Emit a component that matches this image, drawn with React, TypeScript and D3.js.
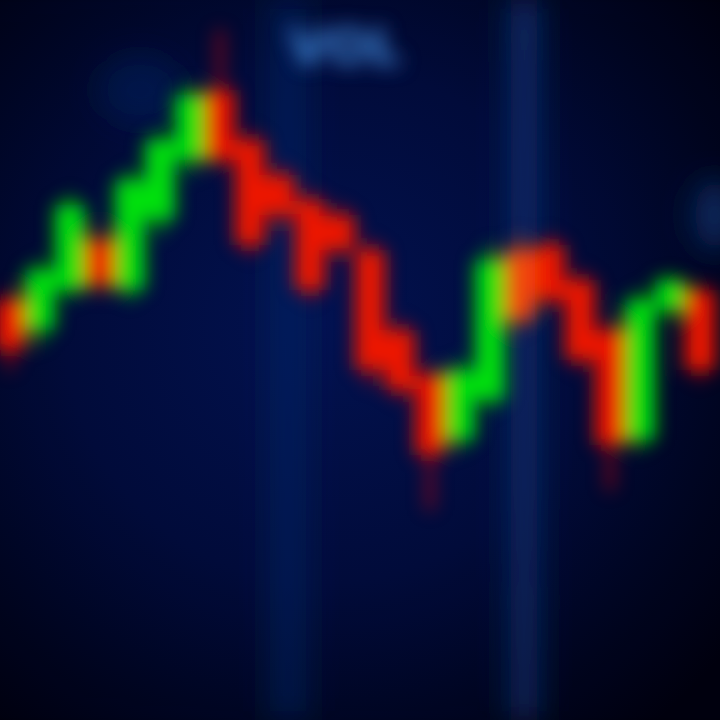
import React from "react";
import * as d3 from "d3";

const sessions = d3.range(24).map((i) => `S${i + 1}`);
const opens = [42, 39, 43, 48, 43, 50, 56, 63, 58, 54.5, 52, 50.5, 47, 39, 34.5, 28, 32, 47, 47.5, 44, 39, 28, 41, 43];
const closes = [37, 45, 51.5, 43.5, 54, 58, 62.5, 56, 47.5, 50.5, 43, 47, 35, 33, 26.5, 35, 46, 40, 42, 36, 27.5, 42, 44, 35];
const highs = [43, 46, 52.5, 49, 55, 59, 63.5, 69, 59, 55.5, 53, 51.5, 48, 40, 35.5, 36, 47.5, 48.5, 48.5, 45, 40, 43, 44.5, 43.5];
const lows = [35, 37.5, 42, 42.5, 42, 48.5, 54.5, 55, 46.5, 49, 42, 46, 33.5, 32, 21, 27, 31, 39, 41, 35, 23, 27, 40, 34];
const gridTicks = d3.range(0, 25);
const label = "VOL";

const W = 720;
const H = 720;

export default function App() {
  const x = d3.scaleBand<string>().domain(sessions).range([-5, 715]).paddingInner(0.0);
  const y = d3.scaleLinear().domain([0, 72]).range([H, 0]);
  const gx = d3.scaleLinear().domain([0, 24]).range([0, W]);

  return (
    <svg width={W} height={H} style={{ position: "fixed", left: 0, top: 0, background: "#010418" }}>
      <defs>
        <radialGradient id="bg" cx="45%" cy="45%" r="72%">
          <stop offset="0%" stopColor="#031350" />
          <stop offset="50%" stopColor="#020c3a" />
          <stop offset="100%" stopColor="#00010c" />
        </radialGradient>
        <linearGradient id="band" x1="0" y1="0" x2="0" y2="1">
          <stop offset="0%" stopColor="#0a3070" stopOpacity={0.85} />
          <stop offset="100%" stopColor="#0a3070" stopOpacity={0.7} />
        </linearGradient>
        <filter id="blur" x="-20%" y="-20%" width="140%" height="140%">
          <feGaussianBlur stdDeviation="9" />
        </filter>
        <filter id="blurText" x="-50%" y="-100%" width="200%" height="300%">
          <feGaussianBlur stdDeviation="10" />
        </filter>
        <filter id="blurBig" x="-50%" y="-50%" width="200%" height="200%">
          <feGaussianBlur stdDeviation="14" />
        </filter>
      </defs>
      <rect width={W} height={H} fill="url(#bg)" />
      <g filter="url(#blurBig)">
        {gridTicks.map((t) => (
          <line key={t} x1={gx(t)} x2={gx(t)} y1={0} y2={H} stroke="#0a2466" strokeWidth={3} opacity={0.4} />
        ))}
        <rect x={272} y={0} width={34} height={H} fill="#0a2a6e" opacity={0.45} />
        <rect x={510} y={0} width={28} height={H} fill="url(#band)" />
        <ellipse cx={140} cy={90} rx={40} ry={35} fill="#0a2a70" opacity={0.35} />
        <ellipse cx={715} cy={215} rx={20} ry={35} fill="#0e3a80" opacity={0.6} />
      </g>
      <g filter="url(#blurText)">
        <text x={345} y={64} textAnchor="middle" fontFamily="DejaVu Sans" fontWeight="bold" fontSize={50} fill="#3f86d8">
          {label}
        </text>
      </g>
      <g filter="url(#blur)">
        {sessions.map((s, i) => {
          const up = closes[i] >= opens[i];
          const color = i === 17 ? "#f04a08" : up ? "#05e010" : "#ec1604";
          const cx = (x(s) as number) + x.bandwidth() / 2;
          const top = y(Math.max(opens[i], closes[i]));
          const bot = y(Math.min(opens[i], closes[i]));
          return (
            <g key={s}>
              <line x1={cx} x2={cx} y1={y(highs[i])} y2={y(lows[i])} stroke={color} strokeWidth={8} opacity={0.55} />
              <rect x={x(s)} y={top} width={x.bandwidth()} height={bot - top} fill={color} />
            </g>
          );
        })}
      </g>
    </svg>
  );
}
